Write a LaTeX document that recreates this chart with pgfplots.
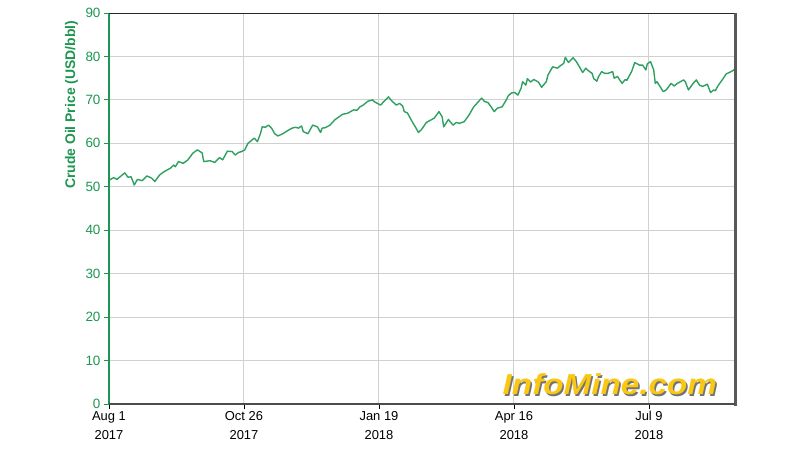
\documentclass[border=0pt]{standalone}
\usepackage{fontspec}
\setmainfont{Liberation Sans}
\usepackage{pgfplots}
\pgfplotsset{compat=1.18}
\usepackage{pgfplotstable}

\definecolor{oilgreen}{RGB}{46,160,96}
\definecolor{labgreen}{RGB}{28,150,80}
\definecolor{gridgray}{RGB}{208,208,208}
\definecolor{mineyellow}{RGB}{250,200,20}

% days since Aug 1 2017, crude oil price (USD/bbl)
\pgfplotstableread{
day price
0 51.5
3 52.1
5 51.7
7 52.3
10 53.2
12 52.2
14 52.3
16 50.4
18 51.7
21 51.4
24 52.5
27 52.0
29 51.2
32 52.7
35 53.5
39 54.3
41 55.0
42 54.6
44 55.8
47 55.4
50 56.2
53 57.7
56 58.5
59 57.8
60 55.8
64 56.0
67 55.6
70 56.7
72 56.2
75 58.2
78 58.1
80 57.3
82 57.9
84 58.1
86 58.5
88 60.0
91 60.9
92 61.2
94 60.4
96 62.3
97 63.8
99 63.7
101 64.2
103 63.5
105 62.2
107 61.7
110 62.2
113 62.9
116 63.5
118 63.7
120 63.5
122 64.0
123 62.7
126 62.2
129 64.2
132 63.8
134 62.5
135 63.5
137 63.6
140 64.2
143 65.4
148 66.7
151 66.9
153 67.3
155 67.7
157 67.6
159 68.4
161 68.8
164 69.7
167 70.0
168 69.6
172 68.8
174 69.6
177 70.7
179 69.8
182 68.8
184 69.2
186 68.6
187 67.3
189 67.0
192 65.0
194 63.8
196 62.5
198 63.2
201 64.8
203 65.2
206 65.8
209 67.3
211 66.1
212 63.8
215 65.5
216 65.0
218 64.2
220 64.8
222 64.6
225 65.0
228 66.5
231 68.4
234 69.6
236 70.4
238 69.6
240 69.4
242 68.4
244 67.3
246 68.1
249 68.4
251 69.6
253 71.0
255 71.6
257 71.7
259 71.1
261 72.7
262 74.2
264 73.4
265 74.9
267 74.1
269 74.7
272 74.1
274 72.9
277 74.2
278 75.7
281 77.6
284 77.3
286 77.9
288 78.4
289 79.8
291 78.6
292 79.0
294 79.7
296 78.8
298 77.6
300 76.3
302 77.3
303 76.9
306 76.1
307 74.9
309 74.3
310 75.3
312 76.5
314 76.1
316 76.1
319 76.5
320 75.0
322 75.4
325 73.8
327 74.7
328 74.5
331 76.5
333 78.6
336 78.0
338 78.0
340 76.9
341 78.3
343 78.8
345 76.9
346 73.8
347 74.2
349 73.1
351 71.9
353 72.3
356 73.8
358 73.2
360 73.8
364 74.6
365 74.2
367 72.3
370 73.8
372 74.6
374 73.4
376 73.1
379 73.6
381 71.7
383 72.3
384 72.1
386 73.4
389 74.9
391 76.0
394 76.5
395 76.7
396 77.0
}\oildata

\begin{document}
\begin{tikzpicture}
\useasboundingbox (-109bp,-56bp) rectangle (691bp,404bp);
\begin{axis}[
    anchor=south west, at={(0,0)},
    width=626bp, height=391bp, scale only axis,
    xmin=0, xmax=396.5, ymin=0, ymax=90,
    xtick={0,85.5,171,256.5,342},
    xticklabels={{Aug 1\\2017},{Oct 26\\2017},{Jan 19\\2018},{Apr 16\\2018},{Jul 9\\2018}},
    xticklabel style={align=center, font=\fontsize{13}{19}\selectfont, text=black,
        yshift=1bp},
    ytick={0,10,...,90},
    yticklabel style={text=labgreen, font=\fontsize{13.5}{15}\selectfont},
    /pgf/number format/assume math mode=true,
    tick align=outside, tick pos=left, major tick length=5bp,
    ytick style={labgreen, line width=0.8bp},
    xtick style={black, line width=0.8bp},
    grid=major, major grid style={gridgray, line width=1bp},
    axis line style={draw=none},
    ylabel={Crude Oil Price (USD/bbl)},
    ylabel style={at={(axis description cs:-0.06,0.765)}, anchor=center,
        font=\bfseries\fontsize{14}{16}\selectfont, text=labgreen},
    clip=false,
]
\addplot[oilgreen, line width=1.4bp, line join=round] table[x=day, y=price] {\oildata};

\draw[labgreen, line width=1.3bp] (rel axis cs:0,0) -- (rel axis cs:0,1);
\draw[black!85, line width=1bp] (rel axis cs:0,1) -- (rel axis cs:1,1);
\draw[black!65, line width=3bp] (rel axis cs:1,1) -- (rel axis cs:1,-0.004);
\draw[black!70, line width=1.8bp] (rel axis cs:0,0) -- (rel axis cs:1,0);

\node[text=black!55, xscale=1.15, font=\bfseries\itshape\fontsize{29}{31}\selectfont]
    at ([xshift=1.5bp,yshift=-1.5bp]rel axis cs:0.8,0.05) {InfoMine.com};
\node[text=mineyellow, xscale=1.15, font=\bfseries\itshape\fontsize{29}{31}\selectfont]
    at (rel axis cs:0.8,0.05) {InfoMine.com};
\end{axis}
\end{tikzpicture}
\end{document}
